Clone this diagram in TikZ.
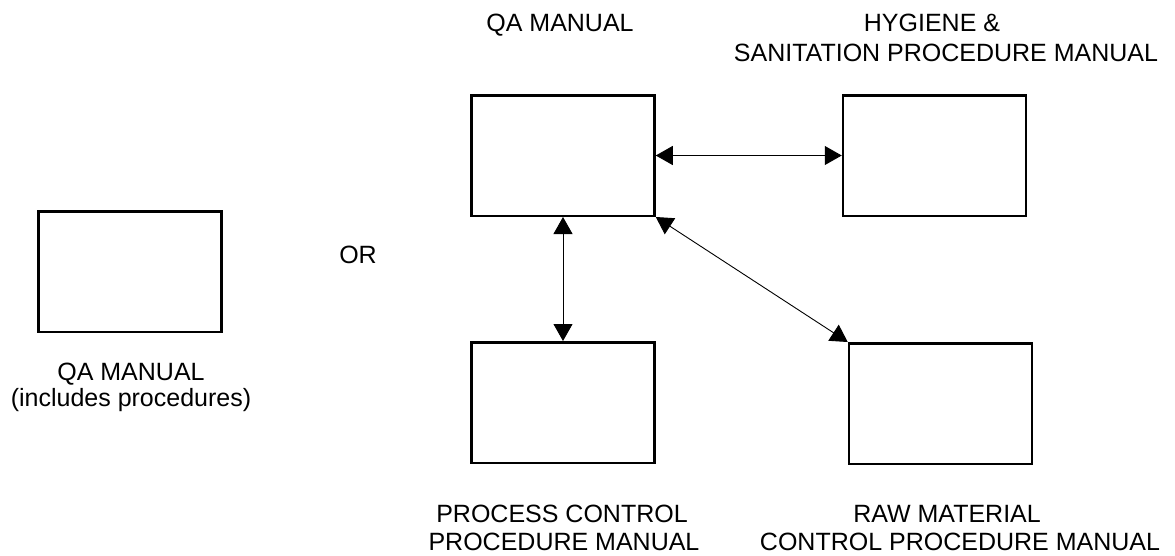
\documentclass[tikz,border=0pt]{standalone}
\usepackage{fontspec}
\setmainfont{Liberation Sans}
\usetikzlibrary{arrows.meta}
\begin{document}
\begin{tikzpicture}[x=1pt,y=-1pt,
  manual/.style={draw=black, line width=2.5pt, minimum width=183pt, minimum height=120.5pt, inner sep=0pt},
  caption/.style={anchor=base, inner sep=0pt, font=\fontsize{25}{29}\selectfont},
  link/.style={line width=0.9pt, {Triangle[length=17pt,width=19pt]}-{Triangle[length=17pt,width=19pt]}}]
  \useasboundingbox (0,0) rectangle (1175,555);

  % single combined manual
  \node[manual] (solo) at (130,271.5) {};
  \node[caption] (solot1) at (131,380) {QA MANUAL};
  \node[caption] (solot2) at (131,406) {(includes procedures)};

  \node[caption] (or) at (358,263) {OR};

  % split set of manuals
  \node[manual] (qa)   at (563,155.5) {};
  \node[manual] (hyg)  at (934.5,155.5) {};
  \node[manual] (proc) at (563,402.5) {};
  \node[manual] (raw)  at (940.5,403.5) {};

  \node[caption] (qat)   at (560,31) {QA MANUAL};
  \node[caption] (hygt1) at (932,31) {HYGIENE \&};
  \node[caption] (hygt2) at (946,61) {SANITATION PROCEDURE MANUAL};
  \node[caption] (proct1) at (562,522) {PROCESS CONTROL};
  \node[caption] (proct2) at (564,550) {PROCEDURE MANUAL};
  \node[caption] (rawt1) at (947,522) {RAW MATERIAL};
  \node[caption] (rawt2) at (960,550) {CONTROL PROCEDURE MANUAL};

  % cross references between the manuals
  \draw[link] (qa.east) -- (hyg.west);
  \draw[link] (qa.south) -- (proc.north);
  \draw[link] (qa.south east) -- (raw.north west);
\end{tikzpicture}
\end{document}
